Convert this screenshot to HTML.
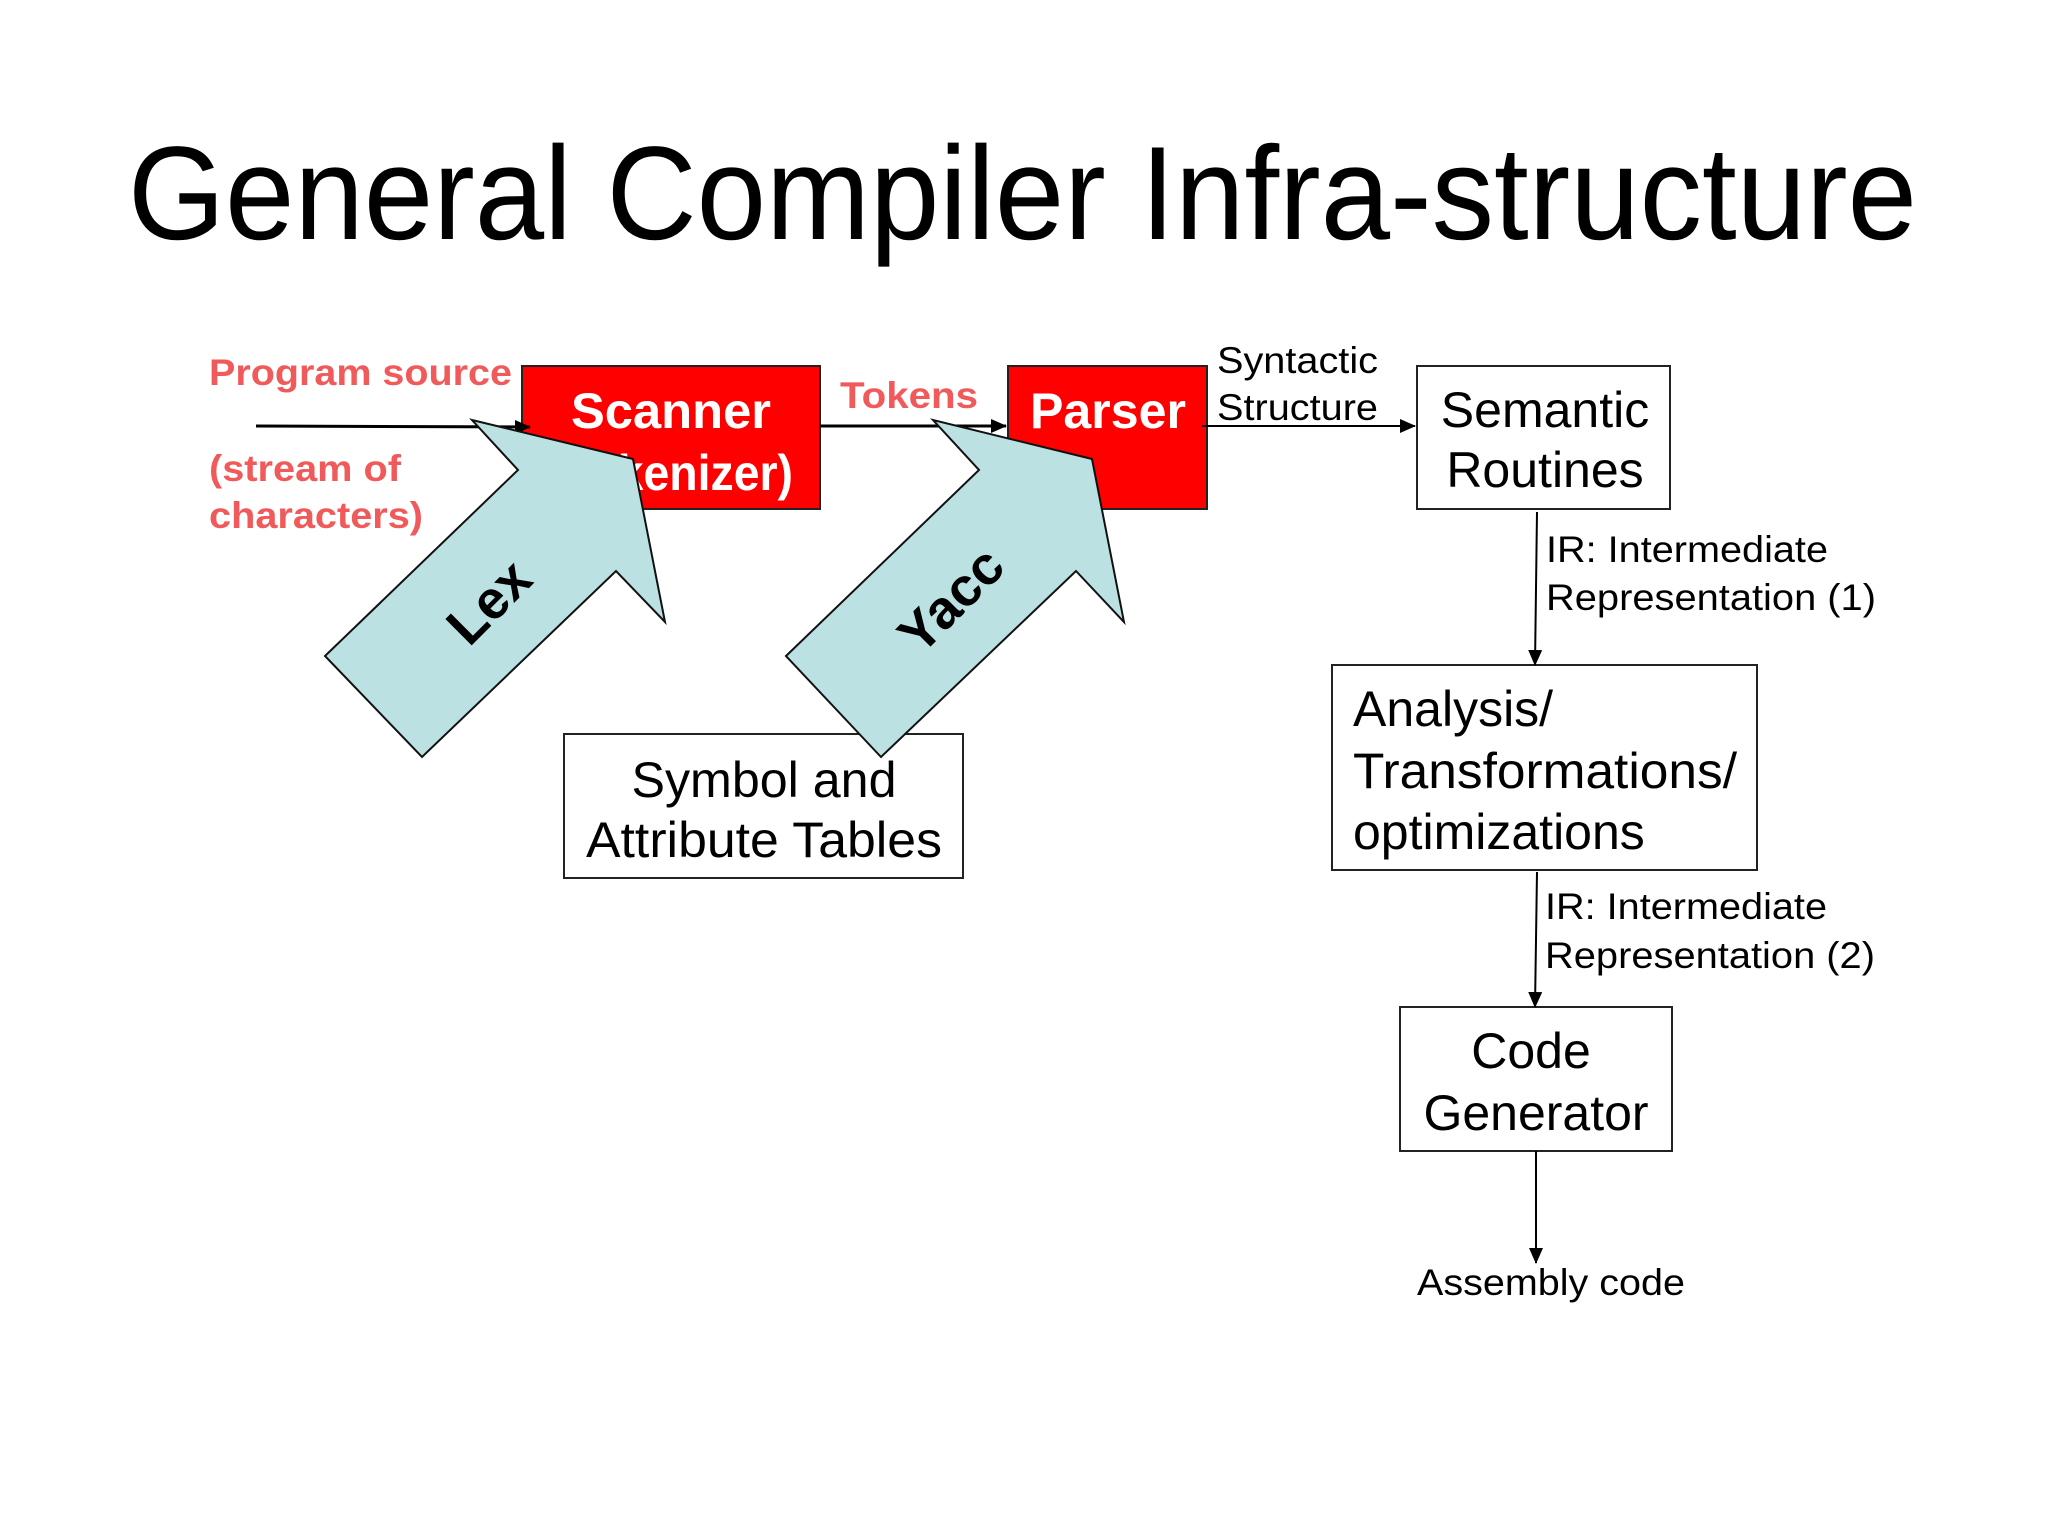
<!DOCTYPE html>
<html><head><meta charset="utf-8"><style>
html,body{margin:0;padding:0;background:#fff;}
svg{display:block;}
text{font-family:"Liberation Sans",Arial,sans-serif;}
</style></head><body>
<svg width="2048" height="1536" viewBox="0 0 2048 1536" xmlns="http://www.w3.org/2000/svg">
<defs>
<marker id="ah2" markerWidth="16" markerHeight="16" refX="15" refY="8" orient="auto" markerUnits="userSpaceOnUse" viewBox="0 0 16 16">
<path d="M0,1 L16,8 L0,15 z" fill="#000"/></marker>
</defs>
<text x="128" y="239" font-size="133" textLength="1789" lengthAdjust="spacingAndGlyphs">General Compiler Infra-structure</text>

<g fill="#f05a5a" font-weight="bold" font-size="37">
<text x="209" y="385" textLength="303" lengthAdjust="spacingAndGlyphs">Program source</text>
<text x="209" y="481" textLength="192" lengthAdjust="spacingAndGlyphs">(stream of</text>
<text x="209" y="528" textLength="214" lengthAdjust="spacingAndGlyphs">characters)</text>
<text x="840" y="408" textLength="138" lengthAdjust="spacingAndGlyphs">Tokens</text>
</g>

<rect x="522" y="366" width="298" height="143" fill="#ff0000" stroke="#222" stroke-width="2"/>
<rect x="1008" y="366" width="199" height="143" fill="#ff0000" stroke="#222" stroke-width="2"/>
<g fill="#fff" font-weight="bold" font-size="50" text-anchor="middle">
<text x="671" y="428" textLength="200" lengthAdjust="spacingAndGlyphs">Scanner</text>
<text x="671" y="490" textLength="244" lengthAdjust="spacingAndGlyphs">(Tokenizer)</text>
<text x="1108" y="428" textLength="156" lengthAdjust="spacingAndGlyphs">Parser</text>
</g>

<line x1="256" y1="426" x2="530" y2="427" stroke="#000" stroke-width="3" marker-end="url(#ah2)"/>
<line x1="820" y1="426" x2="1006" y2="426" stroke="#000" stroke-width="3" marker-end="url(#ah2)"/>
<line x1="1202" y1="426" x2="1415" y2="426" stroke="#000" stroke-width="2" marker-end="url(#ah2)"/>

<text x="1217" y="373" font-size="37" textLength="161" lengthAdjust="spacingAndGlyphs">Syntactic</text>
<text x="1217" y="420" font-size="37" textLength="161" lengthAdjust="spacingAndGlyphs">Structure</text>

<rect x="1417" y="366" width="253" height="143" fill="#fff" stroke="#222" stroke-width="2"/>
<g font-size="50" text-anchor="middle">
<text x="1545" y="427">Semantic</text>
<text x="1545" y="487">Routines</text>
</g>
<rect x="1332" y="665" width="425" height="205" fill="#fff" stroke="#222" stroke-width="2"/>
<g font-size="50">
<text x="1353" y="726">Analysis/</text>
<text x="1353" y="788" textLength="384" lengthAdjust="spacingAndGlyphs">Transformations/</text>
<text x="1353" y="849">optimizations</text>
</g>
<rect x="1400" y="1007" width="272" height="144" fill="#fff" stroke="#222" stroke-width="2"/>
<g font-size="50" text-anchor="middle">
<text x="1531" y="1068">Code</text>
<text x="1536" y="1130">Generator</text>
</g>

<line x1="1537" y1="512" x2="1535" y2="665" stroke="#000" stroke-width="2" marker-end="url(#ah2)"/>
<line x1="1537" y1="872" x2="1535" y2="1007" stroke="#000" stroke-width="2" marker-end="url(#ah2)"/>
<line x1="1536" y1="1151" x2="1536" y2="1263" stroke="#000" stroke-width="2" marker-end="url(#ah2)"/>

<g font-size="37">
<text x="1546" y="562" textLength="282" lengthAdjust="spacingAndGlyphs">IR: Intermediate</text>
<text x="1546" y="610" textLength="330" lengthAdjust="spacingAndGlyphs">Representation (1)</text>
<text x="1545" y="919" textLength="282" lengthAdjust="spacingAndGlyphs">IR: Intermediate</text>
<text x="1545" y="968" textLength="330" lengthAdjust="spacingAndGlyphs">Representation (2)</text>
<text x="1417" y="1295" textLength="268" lengthAdjust="spacingAndGlyphs">Assembly code</text>
</g>

<rect x="564" y="734" width="399" height="144" fill="#fff" stroke="#222" stroke-width="2"/>
<g font-size="50" text-anchor="middle">
<text x="764" y="797" textLength="265" lengthAdjust="spacingAndGlyphs">Symbol and</text>
<text x="764" y="857" textLength="356" lengthAdjust="spacingAndGlyphs">Attribute Tables</text>
</g>

<polygon points="325,656 518,470 472,420 633,459 665,622 616,571 422,757" fill="#bce1e3" stroke="#111" stroke-width="2"/>
<polygon points="786,656 979,470 933,420 1092,459 1124,622 1076,571 881,757" fill="#bce1e3" stroke="#111" stroke-width="2"/>
<text x="490" y="620" font-size="54" font-weight="bold" text-anchor="middle" transform="rotate(-45 490 603)">Lex</text>
<text x="952" y="618" font-size="54" font-weight="bold" text-anchor="middle" transform="rotate(-45 952 601)">Yacc</text>
</svg>
</body></html>
